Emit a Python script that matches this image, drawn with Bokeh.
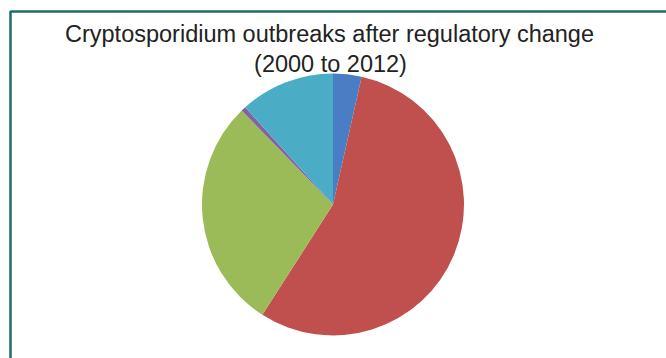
import numpy as np
from bokeh.plotting import figure
from bokeh.models import Range1d, ColumnDataSource
from bokeh.core.properties import value
from bokeh.embed import file_html
from bokeh.resources import INLINE

categories = ["Category 1", "Category 2", "Category 3", "Category 4", "Category 5"]
outbreaks = [6, 95, 49, 1, 20]
colors = ["#4A7EC4", "#C0504D", "#9BBB59", "#8064A2", "#4BACC6"]
title_lines = ["Cryptosporidium outbreaks after regulatory change", "(2000 to 2012)"]

W, H = 666, 358
p = figure(width=W, height=H, output_backend="svg", toolbar_location=None,
           x_range=Range1d(0, W), y_range=Range1d(0, H), min_border=0)
p.axis.visible = False
p.grid.visible = False
p.outline_line_color = None
p.background_fill_color = "white"
p.border_fill_color = "white"

vals = np.array(outbreaks, dtype=float)
frac = vals / vals.sum()
cum = np.concatenate([[0], np.cumsum(frac)])
start = np.pi / 2 - 2 * np.pi * cum[:-1]
end = np.pi / 2 - 2 * np.pi * cum[1:]
src = ColumnDataSource(dict(cat=categories, v=outbreaks, start=start, end=end, color=colors))
p.wedge(x=332.5, y=H - 204, radius=131, start_angle="start", end_angle="end",
        direction="clock", fill_color="color", line_color=None, source=src)

# frame lines
p.line(x=[10, 10, W], y=[0, H - 11, H - 11], line_color="#1E6E63", line_width=2.5)

p.text(x=[329, 330], y=[H - 33.5, H - 63.5], text=title_lines,
       text_font=value("Liberation Sans"), text_font_size="23.5px",
       text_color="#222222", text_align="center", text_baseline="alphabetic")

open("out.html", "w").write(file_html(p, INLINE))
